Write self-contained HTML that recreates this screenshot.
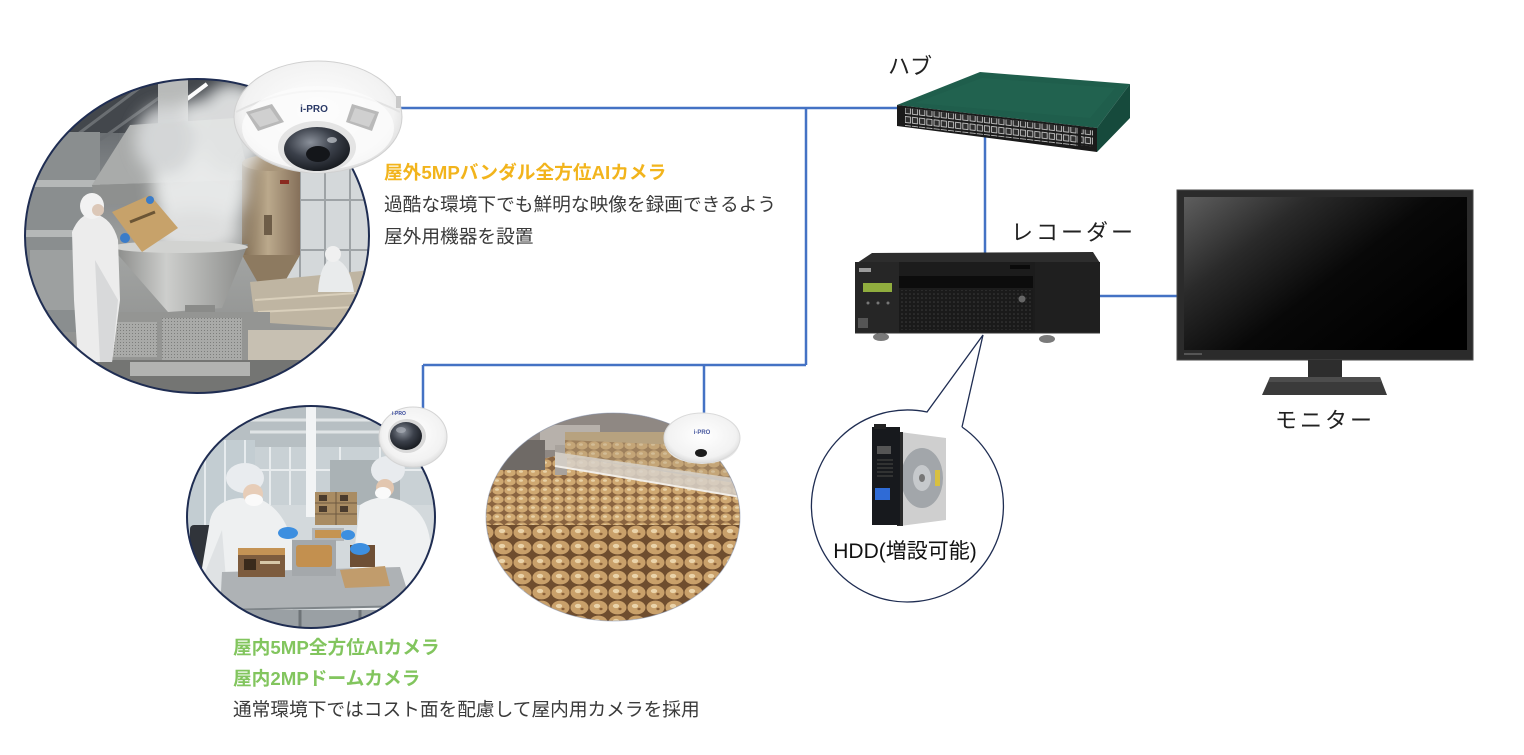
<!DOCTYPE html>
<html><head><meta charset="utf-8">
<style>
html,body{margin:0;padding:0;background:#fff;}
body{width:1524px;height:755px;overflow:hidden;position:relative;}
svg{position:absolute;left:0;top:0;}
text{font-family:"Liberation Sans","Noto Sans CJK JP",sans-serif;}
</style></head><body>
<svg width="1524" height="755" viewBox="0 0 1524 755" xmlns="http://www.w3.org/2000/svg">
<defs>
  <clipPath id="c1"><ellipse cx="197" cy="236" rx="172" ry="157"/></clipPath>
  <clipPath id="c2"><ellipse cx="311" cy="517" rx="124" ry="111"/></clipPath>
  <clipPath id="c3"><ellipse cx="613" cy="517" rx="127" ry="104"/></clipPath>
  <linearGradient id="g1bg" x1="0" y1="0" x2="0" y2="1">
    <stop offset="0" stop-color="#4d5257"/><stop offset="0.25" stop-color="#777b7e"/>
    <stop offset="0.55" stop-color="#a2a4a3"/><stop offset="1" stop-color="#858684"/>
  </linearGradient>
  <linearGradient id="silo" x1="0" y1="0" x2="1" y2="0">
    <stop offset="0" stop-color="#7e6b52"/><stop offset="0.45" stop-color="#bba98c"/><stop offset="1" stop-color="#85705a"/>
  </linearGradient>
  <linearGradient id="steel" x1="0" y1="0" x2="1" y2="0">
    <stop offset="0" stop-color="#868785"/><stop offset="0.4" stop-color="#cdcecc"/><stop offset="1" stop-color="#8a8b89"/>
  </linearGradient>
  <linearGradient id="scr" x1="0" y1="0" x2="1" y2="0.7">
    <stop offset="0" stop-color="#5e5e5e"/><stop offset="0.3" stop-color="#2a2a2a"/>
    <stop offset="0.6" stop-color="#080808"/><stop offset="1" stop-color="#000"/>
  </linearGradient>
  <radialGradient id="camw" cx="0.5" cy="0.45" r="0.6">
    <stop offset="0" stop-color="#ffffff"/><stop offset="0.75" stop-color="#f2f2f2"/><stop offset="1" stop-color="#d2d2d2"/>
  </radialGradient>
  <radialGradient id="lens" cx="0.4" cy="0.35" r="0.7">
    <stop offset="0" stop-color="#8a909a"/><stop offset="0.5" stop-color="#3b404a"/><stop offset="1" stop-color="#15181d"/>
  </radialGradient>
  <filter id="blur8" x="-50%" y="-50%" width="200%" height="200%"><feGaussianBlur stdDeviation="8"/></filter>
  <pattern id="port" width="7.2" height="9" patternUnits="userSpaceOnUse">
    <rect width="7.2" height="9" fill="#1b1b1b"/>
    <rect x="1" y="1.5" width="5.2" height="6" fill="#2e2e2e" stroke="#d8d8d8" stroke-width="0.8"/>
  </pattern>
  <pattern id="mesh" width="4" height="4" patternUnits="userSpaceOnUse">
    <rect width="4" height="4" fill="#1a1a1a"/><circle cx="2" cy="2" r="0.8" fill="#3c3c3c"/>
  </pattern>
  <pattern id="ckS" width="12" height="9" patternUnits="userSpaceOnUse">
    <rect width="12" height="9" fill="#8a6440"/>
    <ellipse cx="6" cy="4.5" rx="5.6" ry="4.1" fill="#cfa871"/>
    <ellipse cx="5" cy="3.5" rx="2" ry="1.3" fill="#e8d2a8"/>
  </pattern>
  <pattern id="ckL" width="19" height="15" patternUnits="userSpaceOnUse">
    <rect width="19" height="15" fill="#6f4d2e"/>
    <ellipse cx="9.5" cy="7.5" rx="9" ry="6.9" fill="#c9a06a"/>
    <ellipse cx="8" cy="6" rx="3.2" ry="2.1" fill="#ead3aa"/>
    <ellipse cx="12" cy="9" rx="1.6" ry="1.2" fill="#8a6038"/>
  </pattern>
  <pattern id="mesh2" width="3" height="3" patternUnits="userSpaceOnUse">
    <rect width="3" height="3" fill="#a9aaa8"/><rect width="1" height="1" fill="#7d7e7c"/>
  </pattern>
</defs>

<!-- ===== Connector lines ===== -->
<g stroke="#4472C4" stroke-width="2.5" fill="none">
  <path d="M400 108 H898"/>
  <path d="M806 108 V365"/>
  <path d="M423 365 H806"/>
  <path d="M423 365 V410"/>
  <path d="M704 365 V414"/>
  <path d="M985 135 V256"/>
  <path d="M1098 296 H1178"/>
</g>

<!-- ===== Top-left factory photo ===== -->
<g clip-path="url(#c1)">
  <rect x="20" y="75" width="360" height="325" fill="url(#g1bg)"/>
  <rect x="20" y="75" width="360" height="58" fill="#43474c"/>
  <path d="M40 132 L120 80 M70 140 L150 80 M100 140 L170 90 M255 80 L320 132 M290 80 L350 130" stroke="#6a6e72" stroke-width="3"/>
  <line x1="183" y1="102" x2="207" y2="84" stroke="#fff" stroke-width="4"/>
  <rect x="25" y="132" width="75" height="200" fill="#8a8e8f"/>
  <rect x="25" y="180" width="75" height="7" fill="#b5b8b8"/>
  <rect x="25" y="230" width="75" height="7" fill="#b5b8b8"/>
  <rect x="30" y="250" width="50" height="60" fill="#9da0a0"/>
  <rect x="158" y="79" width="30" height="60" fill="#b8bab9"/>
  <polygon points="92,185 130,125 235,118 250,180" fill="#a9abaa"/>
  <polygon points="92,185 250,180 248,200 95,205" fill="#8e908f"/>
  <rect x="285" y="150" width="90" height="150" fill="#d4d8da"/>
  <path d="M300 150V300 M325 150V300 M350 150V300 M285 200H375 M285 250H375" stroke="#9ea3a6" stroke-width="2"/>
  <rect x="242" y="162" width="58" height="93" fill="url(#silo)"/>
  <ellipse cx="271" cy="163" rx="29" ry="8" fill="#a8957a"/>
  <polygon points="242,255 300,255 280,290 262,290" fill="#8d7a60"/>
  <rect x="280" y="180" width="9" height="4" fill="#8a2a20"/>
  <rect x="264" y="215" width="8" height="20" fill="#6e5d48"/>
  <polygon points="250,282 372,270 372,330 255,322" fill="#bfb5a2"/>
  <path d="M255 300 L372 292 M258 312 L372 306" stroke="#d9cfbb" stroke-width="2"/>
  <path d="M318 292 Q320 262 333 258 Q350 262 354 292 Z" fill="#e9ebec"/>
  <ellipse cx="333" cy="254" rx="8" ry="8" fill="#f0f0f0"/>
  <g filter="url(#blur8)" opacity="0.92">
    <ellipse cx="200" cy="175" rx="48" ry="75" fill="#eef0f0"/>
    <ellipse cx="232" cy="128" rx="35" ry="45" fill="#e6e8e8"/>
    <ellipse cx="165" cy="140" rx="30" ry="35" fill="#d8dadb"/>
    <ellipse cx="195" cy="232" rx="45" ry="22" fill="#e4e5e5"/>
  </g>
  <polygon points="112,248 248,244 222,308 168,312" fill="url(#steel)"/>
  <ellipse cx="180" cy="247" rx="68" ry="6" fill="#d2d3d1"/>
  <rect x="185" y="305" width="30" height="20" fill="#8a8b89"/>
  <rect x="100" y="312" width="170" height="55" fill="#949593"/>
  <rect x="112" y="322" width="45" height="35" fill="url(#mesh2)"/>
  <rect x="162" y="318" width="80" height="48" fill="url(#mesh2)"/>
  <rect x="248" y="330" width="120" height="30" fill="#c7c0b2"/>
  <rect x="20" y="360" width="360" height="40" fill="#747573"/>
  <rect x="130" y="362" width="120" height="14" fill="#b2b3b1"/>
  <path d="M72 232 Q80 212 95 214 Q112 218 118 240 L120 300 L112 362 L78 362 L74 300 Z" fill="#ececec"/>
  <path d="M95 260 L100 362 L112 362 L118 300 Z" fill="#d8d9da"/>
  <ellipse cx="92" cy="206" rx="12" ry="13" fill="#f2f2f2"/>
  <ellipse cx="98" cy="210" rx="6" ry="6" fill="#dcc8b8"/>
  <polygon points="112,212 150,195 178,228 142,252" fill="#c7a26a"/>
  <path d="M130 222 L155 212" stroke="#6b5535" stroke-width="3"/>
  <circle cx="125" cy="238" r="5" fill="#3a7cc9"/>
  <circle cx="150" cy="200" r="4" fill="#3a7cc9"/>
</g>
<ellipse cx="197" cy="236" rx="172" ry="157" fill="none" stroke="#1f2d52" stroke-width="2"/>

<!-- ===== Camera 1 (fisheye) ===== -->
<g>
  <ellipse cx="318" cy="117" rx="84" ry="56" fill="url(#camw)" stroke="#d0d0d0" stroke-width="1"/>
  <path d="M236 112 Q318 70 400 112" fill="none" stroke="#e2e2e2" stroke-width="2"/>
  <ellipse cx="318" cy="128" rx="76" ry="42" fill="#fbfbfb" opacity="0.8"/>
  <polygon points="246,112 272,104 284,122 258,131" fill="#b9b9b9"/>
  <polygon points="250,114 270,108 279,121 260,127" fill="#d0d0d0"/>
  <polygon points="352,104 379,112 372,131 346,122" fill="#b9b9b9"/>
  <polygon points="355,108 375,114 369,127 350,121" fill="#d0d0d0"/>
  <ellipse cx="317" cy="147" rx="39" ry="26" fill="#e4e4e4"/>
  <ellipse cx="317" cy="149" rx="33" ry="22" fill="url(#lens)"/>
  <ellipse cx="318" cy="154" rx="12" ry="8" fill="#14161a"/>
  <ellipse cx="332" cy="140" rx="5" ry="3" fill="#c8ccd2" opacity="0.7"/>
  <rect x="396" y="96" width="5" height="12" fill="#c9c9c9"/>
  <text x="314" y="112" font-size="10" font-weight="bold" fill="#2b3a67" text-anchor="middle">i-PRO</text>
</g>

<!-- ===== Bottom-left packing photo ===== -->
<g clip-path="url(#c2)">
  <rect x="185" y="405" width="255" height="225" fill="#d3d9dc"/>
  <rect x="185" y="405" width="255" height="42" fill="#b7bfc3"/>
  <path d="M240 420 H430 M250 432 H430" stroke="#e0e4e6" stroke-width="3"/>
  <rect x="255" y="447" width="180" height="58" fill="#c9d1d5"/>
  <path d="M270 447V505 M290 447V505 M340 447V505 M380 447V505 M255 470H435" stroke="#e8ecee" stroke-width="2"/>
  <rect x="330" y="460" width="70" height="45" fill="#aab2b5"/>
  <rect x="306" y="407" width="10" height="110" fill="#f2f4f5"/>
  <rect x="185" y="440" width="70" height="95" fill="#c3cdd2"/>
  <path d="M205 440V535 M225 440V535 M245 440V535" stroke="#e6ebee" stroke-width="2"/>
  <rect x="315" y="492" width="42" height="33" fill="#a98c63"/>
  <path d="M315 503H357 M315 514H357 M336 492V525" stroke="#6e5a40" stroke-width="1"/>
  <rect x="319" y="495" width="8" height="6" fill="#4a3b2d"/><rect x="340" y="495" width="8" height="6" fill="#4a3b2d"/>
  <rect x="319" y="506" width="8" height="6" fill="#4a3b2d"/><rect x="340" y="506" width="8" height="6" fill="#4a3b2d"/>
  <rect x="190" y="525" width="25" height="52" rx="4" fill="#30343a"/>
  <path d="M210 520 Q215 500 240 498 L262 500 Q282 510 290 535 L300 560 L290 628 L205 628 L200 580 Z" fill="#eef0f1"/>
  <path d="M222 530 L230 628 L205 628 L202 580 Z" fill="#dfe2e4"/>
  <ellipse cx="245" cy="478" rx="19" ry="15" fill="#e9ecef"/>
  <ellipse cx="253" cy="494" rx="10" ry="10" fill="#e7cdb8"/>
  <ellipse cx="254" cy="500" rx="9" ry="6" fill="#fafafa"/>
  <path d="M360 505 Q375 495 392 498 Q425 505 430 540 L432 628 L350 628 L352 570 Z" fill="#eff1f2"/>
  <ellipse cx="388" cy="470" rx="17" ry="14" fill="#e8ebee"/>
  <ellipse cx="385" cy="488" rx="9" ry="9" fill="#e2c6af"/>
  <ellipse cx="383" cy="493" rx="8" ry="6" fill="#fafafa"/>
  <rect x="312" y="528" width="32" height="13" fill="#b3b6b8"/>
  <rect x="315" y="530" width="26" height="8" fill="#c59452"/>
  <polygon points="222,572 400,567 412,606 220,610" fill="#aeb2b5"/>
  <path d="M220 610 L412 606" stroke="#7f8589" stroke-width="2"/>
  <rect x="185" y="610" width="255" height="20" fill="#9aa0a4"/>
  <path d="M240 610V630 M300 610V630 M360 610V630" stroke="#6e7478" stroke-width="3"/>
  <rect x="238" y="548" width="47" height="8" fill="#c49355"/>
  <rect x="238" y="555" width="47" height="22" fill="#7d5c3e"/>
  <rect x="244" y="559" width="12" height="11" fill="#3a2a1c"/>
  <rect x="260" y="561" width="20" height="3" fill="#d8c8a8"/>
  <rect x="292" y="540" width="44" height="36" fill="#a4a8ab"/>
  <rect x="296" y="545" width="36" height="22" rx="3" fill="#c3904f"/>
  <rect x="350" y="545" width="25" height="22" fill="#6e4f35"/>
  <polygon points="340,570 385,566 390,586 345,588" fill="#c19c6c"/>
  <ellipse cx="288" cy="533" rx="10" ry="6" fill="#3d8fe0"/>
  <ellipse cx="360" cy="549" rx="10" ry="6" fill="#3d8fe0"/>
  <ellipse cx="348" cy="535" rx="7" ry="5" fill="#3d8fe0"/>
</g>
<ellipse cx="311" cy="517" rx="124" ry="111" fill="none" stroke="#1f2d52" stroke-width="2"/>

<!-- ===== Bottom-right cookie photo ===== -->
<g clip-path="url(#c3)">
  <rect x="485" y="412" width="262" height="214" fill="url(#ckL)"/>
  <rect x="485" y="450" width="262" height="75" fill="url(#ckS)"/>
  <polygon points="485,412 747,412 747,485 560,455 485,472" fill="#8f8883"/>
  <rect x="540" y="425" width="60" height="25" fill="#b7b1ab"/>
  <rect x="500" y="440" width="45" height="30" fill="#6f6a66"/>
  <rect x="555" y="445" width="12" height="30" fill="#a9a39d"/>
  <polygon points="565,432 747,432 747,482 565,456" fill="#b7a27f"/>
  <polygon points="565,440 747,448 747,482 565,456" fill="url(#ckS)" opacity="0.55"/>
  <polygon points="555,452 747,480 747,498 555,466" fill="#d8d2ca" opacity="0.85"/>
  <path d="M555 466 L747 498" stroke="#f2eee8" stroke-width="2"/>
</g>
<ellipse cx="613" cy="517" rx="127" ry="104" fill="none" stroke="#8090b0" stroke-width="1" opacity="0.5"/>

<!-- ===== Camera 2 (dome) ===== -->
<g>
  <ellipse cx="413" cy="437" rx="34" ry="30" fill="url(#camw)" stroke="#d4d4d4" stroke-width="1"/>
  <ellipse cx="407" cy="436" rx="19" ry="17" fill="#d9d9d9"/>
  <ellipse cx="406" cy="436" rx="16" ry="14" fill="url(#lens)"/>
  <ellipse cx="401" cy="430" rx="5" ry="3" fill="#a9aeb6" opacity="0.7"/>
  <text x="392" y="415" font-size="5" font-weight="bold" fill="#34469a">i-PRO</text>
</g>

<!-- ===== Camera 3 (dome) ===== -->
<g>
  <path d="M664 438 Q664 462 702 464 Q740 462 740 438 Z" fill="#e8e8e8"/>
  <ellipse cx="702" cy="438" rx="38" ry="25" fill="url(#camw)" stroke="#dadada" stroke-width="1"/>
  <ellipse cx="701" cy="453" rx="6" ry="4" fill="#1c1c1c"/>
  <text x="702" y="434" font-size="6" font-weight="bold" fill="#4a5aa0" text-anchor="middle">i-PRO</text>
</g>

<!-- ===== Hub ===== -->
<g>
  <polygon points="897,105 980,72 1130,84 1097,128" fill="#1f5e4c"/>
  <polygon points="915,103 982,78 1115,88 1090,118" fill="#236652" opacity="0.6"/>
  <polygon points="1097,128 1130,84 1130,118 1097,152" fill="#164a3c"/>
  <polygon points="897,105 1097,128 1097,152 897,126" fill="#1a1a1a"/>
  <g transform="translate(897,105) skewY(6.56)">
    <rect x="8" y="2" width="173" height="18" fill="url(#port)"/>
    <rect x="184" y="3" width="12" height="16" fill="url(#port)"/>
  </g>
</g>

<!-- ===== Recorder ===== -->
<g>
  <polygon points="857,263 872,253 1093,252 1100,263" fill="#2d2d2d"/>
  <rect x="855" y="262" width="245" height="71" fill="#1c1c1c"/>
  <rect x="855" y="262" width="44" height="71" fill="#262626"/>
  <rect x="863" y="283" width="29" height="9" fill="#90ad3e"/>
  <rect x="859" y="268" width="12" height="4" fill="#9a9a9a"/>
  <rect x="858" y="318" width="10" height="10" fill="#555"/>
  <circle cx="868" cy="303" r="1.5" fill="#777"/><circle cx="878" cy="303" r="1.5" fill="#777"/><circle cx="888" cy="303" r="1.5" fill="#777"/>
  <rect x="899" y="276" width="134" height="12" fill="#0c0c0c"/>
  <rect x="899" y="290" width="134" height="40" fill="url(#mesh)"/>
  <rect x="1035" y="262" width="65" height="71" fill="#1f1f1f"/>
  <rect x="1010" y="265" width="20" height="4" fill="#0a0a0a"/>
  <circle cx="1022" cy="299" r="3.5" fill="#666"/>
  <path d="M855 333 H1100" stroke="#333" stroke-width="1"/>
  <ellipse cx="881" cy="337" rx="8" ry="4" fill="#7a7a7a"/>
  <ellipse cx="1047" cy="339" rx="8" ry="4" fill="#7a7a7a"/>
</g>

<!-- ===== Monitor ===== -->
<g>
  <rect x="1177" y="190" width="296" height="170" fill="#2b2b2b" stroke="#4a4a4a" stroke-width="1"/>
  <rect x="1184" y="197" width="283" height="153" fill="url(#scr)"/>
  <rect x="1308" y="360" width="34" height="24" fill="#2d2d2d"/>
  <polygon points="1270,377 1380,377 1387,395 1262,395" fill="#3a3a3a"/>
  <polygon points="1270,377 1380,377 1382,382 1268,382" fill="#4d4d4d"/>
  <rect x="1184" y="353" width="18" height="2" fill="#555"/>
</g>

<!-- ===== HDD callout ===== -->
<path d="M962,427 L983,335 L927,412 A96,96 0 1,0 962,427" fill="#fff" stroke="#1f2d52" stroke-width="1.3"/>
<g>
  <polygon points="900,432 946,438 946,520 900,526" fill="#cfcfcf"/>
  <ellipse cx="922" cy="478" rx="21" ry="30" fill="#a2a6aa"/>
  <ellipse cx="922" cy="478" rx="9" ry="13" fill="#c6c9cc"/>
  <ellipse cx="922" cy="478" rx="3" ry="4" fill="#777"/>
  <rect x="935" y="470" width="5" height="16" fill="#d8c040"/>
  <rect x="897" y="432" width="6" height="94" fill="#2a2a2a"/>
  <rect x="872" y="427" width="28" height="98" fill="#17191d"/>
  <rect x="874" y="424" width="12" height="5" fill="#222"/>
  <rect x="877" y="446" width="14" height="8" fill="#555"/>
  <path d="M877 460H893 M877 464H893 M877 468H893 M877 472H893 M877 476H893" stroke="#3a3a3a" stroke-width="1.5"/>
  <rect x="875" y="488" width="15" height="12" fill="#2f6bd6"/>
</g>

<!-- ===== Text ===== -->
<text x="384" y="179" font-size="18.7" font-weight="bold" fill="#F2B41C">屋外5MPバンダル全方位AIカメラ</text>
<text x="384" y="211" font-size="18.7" fill="#3a3a3a">過酷な環境下でも鮮明な映像を録画できるよう</text>
<text x="384" y="243" font-size="18.7" fill="#3a3a3a">屋外用機器を設置</text>

<text x="233" y="654" font-size="18.7" font-weight="bold" fill="#82C55E">屋内5MP全方位AIカメラ</text>
<text x="233" y="685" font-size="18.7" font-weight="bold" fill="#82C55E">屋内2MPドームカメラ</text>
<text x="233" y="716" font-size="18.7" fill="#3a3a3a">通常環境下ではコスト面を配慮して屋内用カメラを採用</text>

<text x="888" y="74" font-size="22" fill="#222">ハブ</text>
<text x="1011" y="240" font-size="22" letter-spacing="3" fill="#222">レコーダー</text>
<text x="1275" y="428" font-size="22" letter-spacing="3" fill="#222">モニター</text>
<text x="905" y="558" font-size="21" fill="#111" text-anchor="middle">HDD(増設可能)</text>
</svg>
</body></html>
